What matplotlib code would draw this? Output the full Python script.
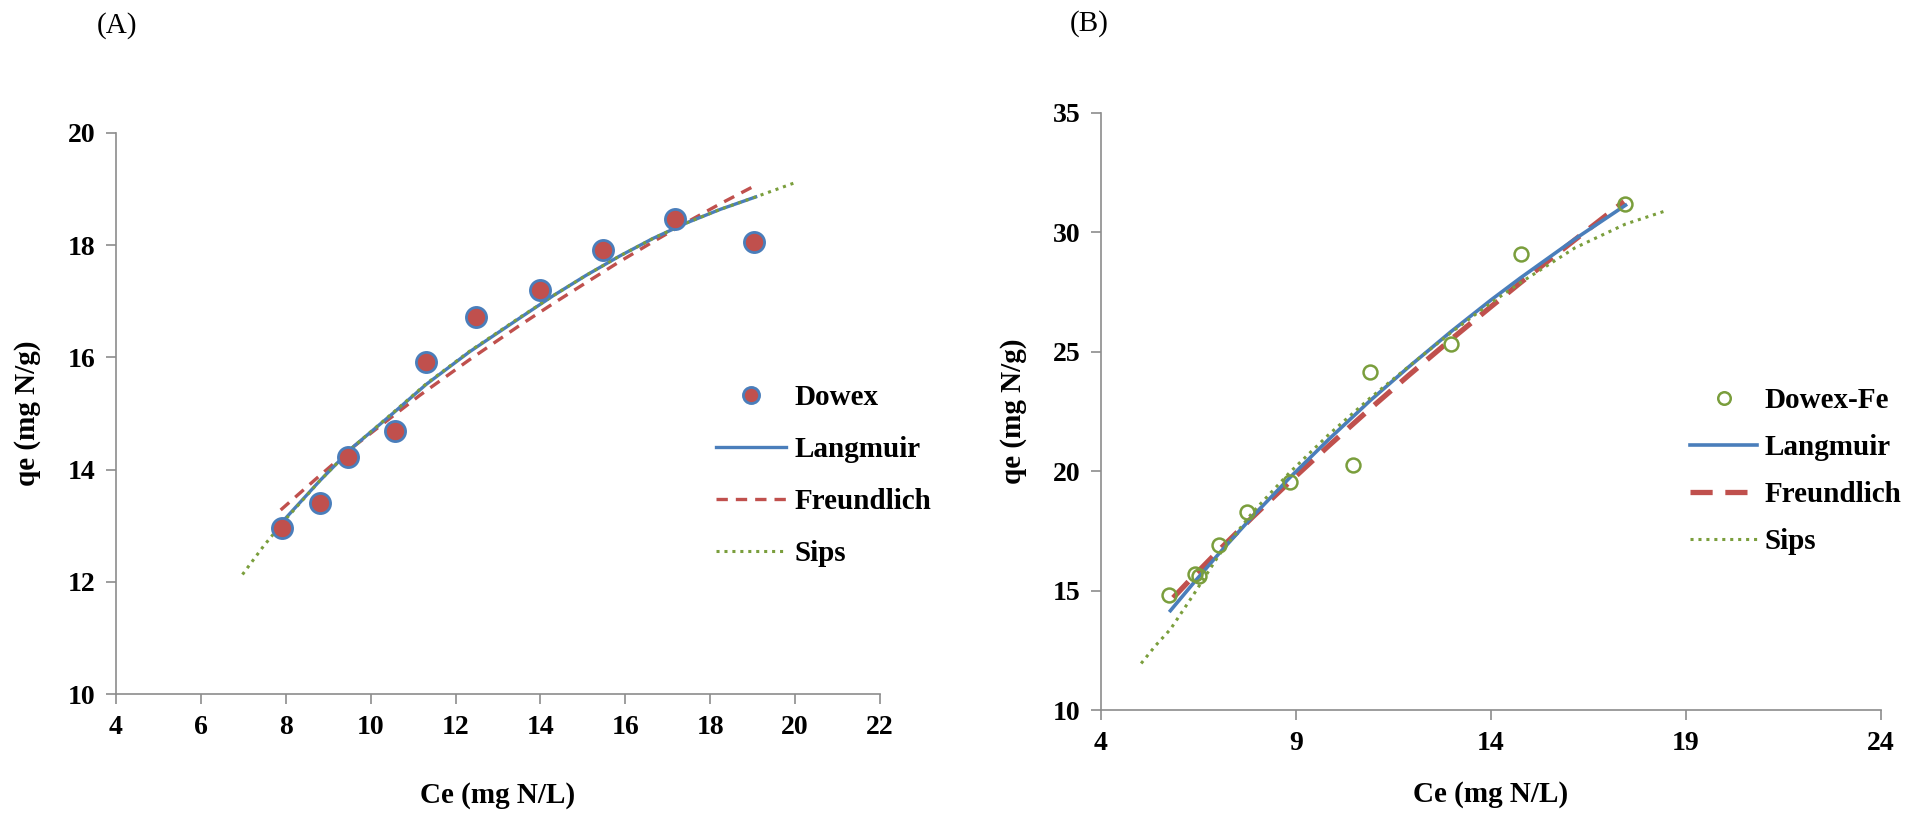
import matplotlib
matplotlib.use("Agg")
import matplotlib.pyplot as plt

plt.rcParams['font.family'] = ['Liberation Serif', 'DejaVu Serif']

# ---------------- Panel A: Dowex ----------------
dowex_ce = [7.90, 8.80, 9.46, 10.58, 11.31, 12.49, 13.99, 15.48, 17.17, 19.04]
dowex_qe = [12.96, 13.40, 14.22, 14.68, 15.92, 16.72, 17.20, 17.92, 18.46, 18.05]

a_lang_ce = [7.98, 8.80, 9.58, 10.52, 11.31, 12.33, 13.51, 14.30, 15.07, 15.85, 16.65, 17.45, 18.24, 19.07]
a_lang_qe = [13.12, 13.80, 14.40, 15.00, 15.52, 16.10, 16.70, 17.10, 17.46, 17.80, 18.12, 18.40, 18.64, 18.86]

a_freu_ce = [7.88, 8.72, 9.58, 10.50, 11.15, 12.33, 13.51, 14.30, 15.07, 15.85, 16.65, 17.45, 18.24, 19.00]
a_freu_qe = [13.28, 13.84, 14.40, 14.94, 15.32, 15.96, 16.57, 16.96, 17.33, 17.70, 18.06, 18.41, 18.74, 19.04]

a_sips_ce = [6.98, 7.48, 7.98, 8.80, 9.58, 10.52, 11.31, 12.33, 13.51, 14.30, 15.07, 15.85, 16.65, 17.45, 18.24, 19.07, 19.98]
a_sips_qe = [12.13, 12.64, 13.10, 13.80, 14.40, 15.01, 15.53, 16.11, 16.71, 17.10, 17.46, 17.80, 18.12, 18.40, 18.64, 18.86, 19.11]

# ---------------- Panel B: Dowex-Fe ----------------
fe_ce = [5.75, 6.41, 6.52, 7.03, 7.74, 8.84, 10.47, 10.89, 12.97, 14.76, 17.44]
fe_qe = [14.80, 15.69, 15.62, 16.93, 18.30, 19.53, 20.25, 24.15, 25.33, 29.10, 31.20]

b_lang_ce = [5.78, 6.40, 7.03, 7.90, 8.84, 9.85, 10.89, 11.90, 12.97, 14.00, 14.76, 16.15, 17.45]
b_lang_qe = [14.16, 15.37, 16.56, 18.13, 19.73, 21.35, 22.94, 24.38, 25.84, 27.17, 28.10, 29.72, 31.14]

b_freu_ce = [5.85, 6.40, 7.03, 7.90, 8.84, 9.85, 10.89, 11.90, 12.97, 14.00, 14.76, 16.15, 17.41]
b_freu_qe = [14.70, 15.65, 16.70, 18.10, 19.56, 21.08, 22.60, 24.03, 25.51, 26.89, 27.90, 29.69, 31.29]

b_sips_ce = [5.03, 5.40, 5.78, 6.40, 7.03, 7.90, 8.84, 9.85, 10.89, 11.90, 12.97, 14.00, 14.76, 16.15, 17.45, 18.51]
b_sips_qe = [11.95, 12.70, 13.38, 14.90, 16.50, 18.30, 19.95, 21.55, 23.05, 24.40, 25.80, 27.05, 27.90, 29.35, 30.35, 30.92]

BLUE = '#4A7EBB'
RED = '#C0504D'
GREEN = '#7A9E3C'
SPINE = '#8C8C8C'

W, H = 1919, 813
fig = plt.figure(figsize=(W / 100, H / 100), dpi=100)


def rect(x0, x1, ytop, ybot):
    return [x0 / W, 1 - ybot / H, (x1 - x0) / W, (ybot - ytop) / H]


def style_axes(ax):
    for s in ('top', 'right'):
        ax.spines[s].set_visible(False)
    for s in ('left', 'bottom'):
        ax.spines[s].set_color(SPINE)
        ax.spines[s].set_linewidth(1.2)
    ax.tick_params(axis='both', direction='out', length=7, width=1.2,
                   color=SPINE, labelsize=20, pad=8)
    for lab in ax.get_xticklabels() + ax.get_yticklabels():
        lab.set_fontweight('bold')


# Panel A
axA = fig.add_axes(rect(116, 880, 133, 694))
axA.plot(dowex_ce, dowex_qe, 'o', ms=14.5, mfc=RED, mec=BLUE, mew=2.0,
         label='Dowex', zorder=5, linestyle='none')
axA.plot(a_lang_ce, a_lang_qe, '-', color=BLUE, lw=2.4, label='Langmuir', zorder=3)
axA.plot(a_freu_ce, a_freu_qe, color=RED, lw=2.4, linestyle=(0, (3.4, 2.4)),
         label='Freundlich', zorder=2)
axA.plot(a_sips_ce, a_sips_qe, color=GREEN, lw=2.2, linestyle=(0, (1, 1.6)),
         label='Sips', zorder=4)
axA.set_xlim(4, 22)
axA.set_ylim(10, 20)
axA.set_xticks(range(4, 23, 2))
axA.set_yticks(range(10, 21, 2))
style_axes(axA)
axA.set_xlabel('Ce (mg N/L)', fontsize=21, fontweight='bold', labelpad=30)
axA.set_ylabel('qe (mg N/g)', fontsize=21, fontweight='bold', labelpad=19)
axA.legend(loc='upper left', bbox_to_anchor=(716 / W, 1 - 384 / H),
           bbox_transform=fig.transFigure, frameon=False,
           prop={'weight': 'bold', 'size': 21}, handlelength=2.4,
           handletextpad=0.3, labelspacing=0.86, borderpad=0,
           borderaxespad=0, markerscale=0.8)

# Panel B
axB = fig.add_axes(rect(1101, 1881, 113, 710))
axB.plot(fe_ce, fe_qe, 'o', ms=10, mfc='none', mec=GREEN, mew=1.8,
         label='Dowex-Fe', zorder=5, linestyle='none')
axB.plot(b_lang_ce, b_lang_qe, '-', color=BLUE, lw=2.6, label='Langmuir', zorder=3)
axB.plot(b_freu_ce, b_freu_qe, color=RED, lw=3.8, linestyle=(0, (4.2, 2.4)),
         label='Freundlich', zorder=2)
axB.plot(b_sips_ce, b_sips_qe, color=GREEN, lw=2.2, linestyle=(0, (1, 1.6)),
         label='Sips', zorder=4)
axB.set_xlim(4, 24)
axB.set_ylim(10, 35)
axB.set_xticks(range(4, 25, 5))
axB.set_yticks(range(10, 36, 5))
style_axes(axB)
axB.set_xlabel('Ce (mg N/L)', fontsize=21, fontweight='bold', labelpad=18)
axB.set_ylabel('qe (mg N/g)', fontsize=21, fontweight='bold', labelpad=18)
axB.legend(loc='upper left', bbox_to_anchor=(1690 / W, 1 - 387 / H),
           bbox_transform=fig.transFigure, frameon=False,
           prop={'weight': 'bold', 'size': 21}, handlelength=2.3,
           handletextpad=0.25, labelspacing=0.69, borderpad=0,
           borderaxespad=0, markerscale=0.9)

fig.text(117 / W, 1 - 26 / H, '(A)', fontsize=21, ha='center', va='center')
fig.text(1089 / W, 1 - 24 / H, '(B)', fontsize=21, ha='center', va='center')

fig.savefig('out.png', dpi=100, facecolor='white')
